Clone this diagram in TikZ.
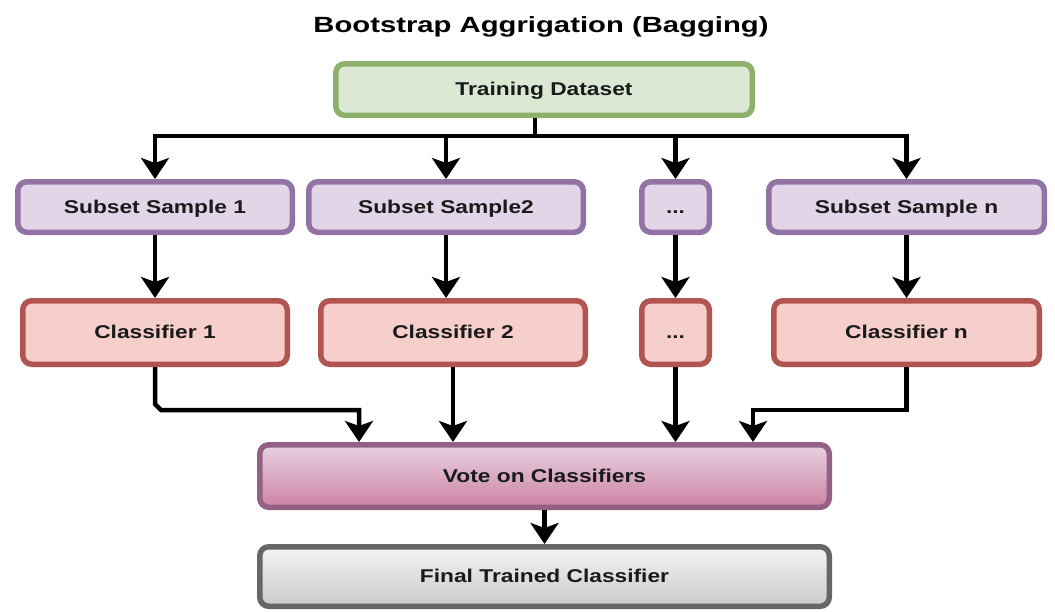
\documentclass[tikz,border=0pt]{standalone}
\usepackage{graphicx}
\usepackage{fontspec}
\setmainfont{Liberation Sans}
\usetikzlibrary{arrows.meta}

\definecolor{trainline}{HTML}{8DB06A}
\definecolor{trainfill}{HTML}{DAE8D4}
\definecolor{subline}{HTML}{9173A6}
\definecolor{subfill}{HTML}{E1D5E7}
\definecolor{clsline}{HTML}{B25550}
\definecolor{clsfill}{HTML}{F6CFCC}
\definecolor{voteline}{HTML}{936184}
\definecolor{votetop}{HTML}{E8D2E2}
\definecolor{votebot}{HTML}{CC82A3}
\definecolor{finalline}{HTML}{666666}
\definecolor{finaltop}{HTML}{F4F4F4}
\definecolor{finalbot}{HTML}{CACACA}
\definecolor{labeltext}{HTML}{1A1A1A}

% wide bold labels, centred on their capital height
\newcommand{\boxlabel}[1]{\scalebox{1.23}[1]{\fontsize{18.5}{20}\selectfont\bfseries\smash{#1}\vphantom{C}}}
\newcommand{\titlelabel}[1]{\scalebox{1.33}[1]{\fontsize{22}{24}\selectfont\bfseries\smash{#1}\vphantom{B}}}

\tikzset{
  boxbase/.style={rounded corners=9pt, line width=5.5pt, inner sep=0pt,
    text=labeltext, align=center},
  trainbox/.style={boxbase, draw=trainline, fill=trainfill},
  subbox/.style={boxbase, draw=subline, fill=subfill, minimum height=50.5pt},
  clsbox/.style={boxbase, draw=clsline, fill=clsfill, minimum height=63.5pt},
  votebox/.style={boxbase, draw=voteline, top color=votetop, bottom color=votebot},
  finalbox/.style={boxbase, draw=finalline, top color=finaltop, bottom color=finalbot},
  conn/.style={line width=4.5pt, draw=black},
  arr/.style={conn, -{Stealth[length=21pt,width=28pt,inset=5pt]}},
}

\begin{document}
\begin{tikzpicture}[x=1pt, y=-1pt]
\useasboundingbox (0,0) rectangle (1055,611);

% title
\node (title) at (541,25) {\titlelabel{Bootstrap Aggrigation (Bagging)}};

% source data
\node[trainbox, minimum width=416.5pt, minimum height=51.5pt] (train) at (544,89.5) {\boxlabel{Training Dataset}};

% bootstrap subsets
\node[subbox, minimum width=274.5pt] (s1) at (155,207) {\boxlabel{Subset Sample 1}};
\node[subbox, minimum width=274.5pt] (s2) at (446,207) {\boxlabel{Subset Sample2}};
\node[subbox, minimum width=67.5pt]  (sd) at (675.5,207) {\boxlabel{...}};
\node[subbox, minimum width=275.5pt] (sn) at (906.5,207) {\boxlabel{Subset Sample n}};

% classifiers
\node[clsbox, minimum width=264.5pt] (c1) at (155,332.5) {\boxlabel{Classifier 1}};
\node[clsbox, minimum width=264.5pt] (c2) at (453,332.5) {\boxlabel{Classifier 2}};
\node[clsbox, minimum width=67.5pt]  (cd) at (675.5,332.5) {\boxlabel{...}};
\node[clsbox, minimum width=265.5pt] (cn) at (906.5,332.5) {\boxlabel{Classifier n}};

% aggregation
\node[votebox, minimum width=569.5pt, minimum height=62.5pt] (vote) at (544.5,476) {\boxlabel{Vote on Classifiers}};
\node[finalbox, minimum width=569.5pt, minimum height=59.5pt] (final) at (544.5,576.5) {\boxlabel{Final Trained Classifier}};

% split of the training data
\coordinate (split) at (535,136);
\draw[conn] (train.south -| split) -- (split);
\draw[arr] (split) -| (s1.north);
\draw[arr] (split) -| (s2.north);
\draw[arr] (split) -| (sd.north);
\draw[arr] (split) -| (sn.north);

% subsets feed classifiers
\draw[arr] (s1.south) -- (s1.south |- c1.north);
\draw[arr] (s2.south) -- (s2.south |- c2.north);
\draw[arr] (sd.south) -- (sd.south |- cd.north);
\draw[arr] (sn.south) -- (sn.south |- cn.north);

% classifiers feed the vote (small bevel on the left bend)
\coordinate (k1a) at (155,404);
\coordinate (k1b) at (161,410);
\coordinate (m1) at (359,410);
\coordinate (mn) at (753,410);
\draw[arr] (c1.south) -- (k1a) -- (k1b) -- (m1) -- (m1 |- vote.north);
\draw[arr] (c2.south) -- (c2.south |- vote.north);
\draw[arr] (cd.south) -- (cd.south |- vote.north);
\draw[arr] (cn.south) |- (mn) -- (mn |- vote.north);

% final model
\draw[arr] (vote.south) -- (final.north);
\end{tikzpicture}
\end{document}
